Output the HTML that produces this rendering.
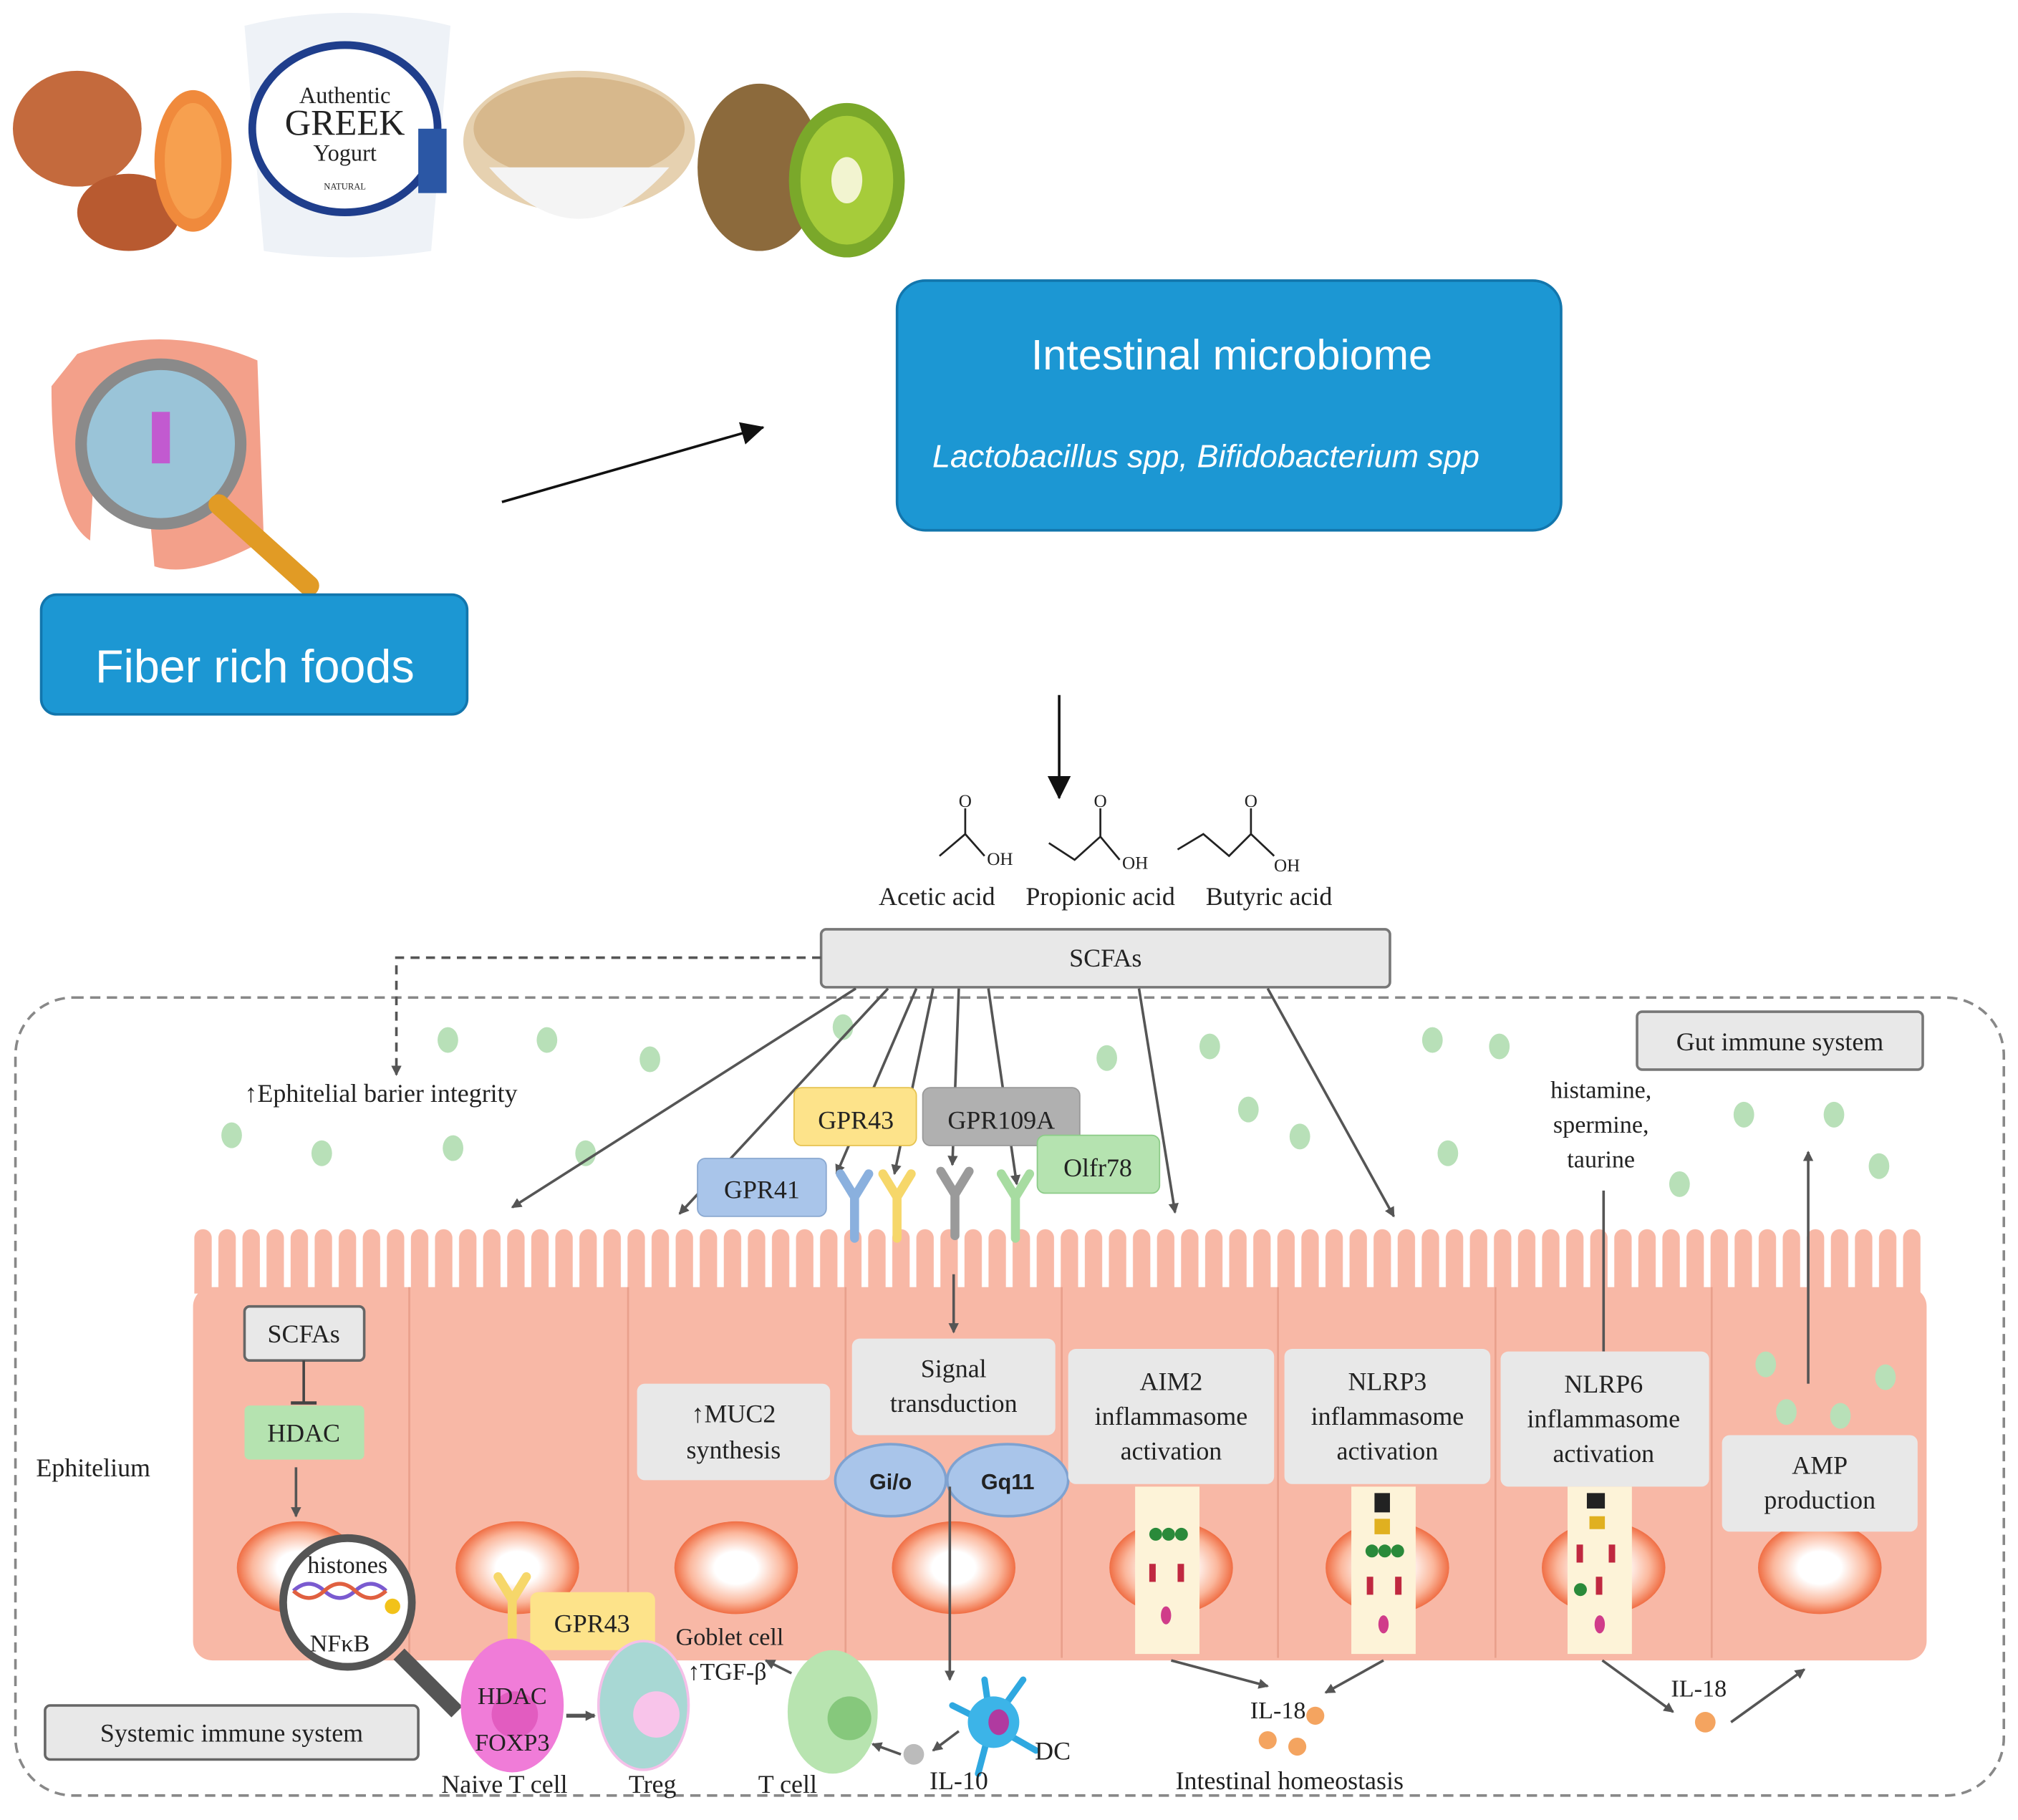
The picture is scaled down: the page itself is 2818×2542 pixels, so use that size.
<!DOCTYPE html>
<html><head><meta charset="utf-8"><style>
html,body{margin:0;padding:0;background:#fff;}
svg{display:block;}
text{font-family:"Liberation Serif",serif;fill:#222;}
.s{font-family:"Liberation Sans",sans-serif;}
</style></head><body>
<svg width="2818" height="2542" viewBox="0 0 1568 1414" preserveAspectRatio="none" xmlns="http://www.w3.org/2000/svg">
<defs>
<pattern id="mv" x="150" y="955" width="18.7" height="200" patternUnits="userSpaceOnUse">
<rect x="1" y="0" width="13.5" height="200" rx="6.7" fill="#f8b8a6"/>
</pattern>
<radialGradient id="nuc" cx="50%" cy="50%" r="50%">
<stop offset="0.35" stop-color="#fff"/><stop offset="0.75" stop-color="#fbb79c"/><stop offset="1" stop-color="#f06e44"/>
</radialGradient>
<marker id="ah" markerWidth="8" markerHeight="8" refX="7" refY="4" orient="auto" markerUnits="userSpaceOnUse"><path d="M0,0 L8,4 L0,8z" fill="#555"/></marker>
<marker id="ahb" markerWidth="18" markerHeight="18" refX="17" refY="9" orient="auto" markerUnits="userSpaceOnUse"><path d="M0,0 L18,9 L0,18z" fill="#111"/></marker>
</defs>

<!-- food images -->
<ellipse cx="60" cy="100" rx="50" ry="45" fill="#c46a3d"/>
<ellipse cx="100" cy="165" rx="40" ry="30" fill="#b85a30"/>
<ellipse cx="150" cy="125" rx="30" ry="55" fill="#f08a3c"/>
<ellipse cx="150" cy="125" rx="22" ry="45" fill="#f7a04f"/>
<path d="M190,20 Q270,0 350,20 L335,195 Q270,205 205,195z" fill="#eef2f7"/>
<ellipse cx="268" cy="100" rx="72" ry="65" fill="#fff" stroke="#1f3e8c" stroke-width="6"/>
<text x="268" y="80" font-size="18" text-anchor="middle" fill="#1f3e8c">Authentic</text>
<text x="268" y="105" font-size="28" text-anchor="middle" fill="#1f3e8c">GREEK</text>
<text x="268" y="125" font-size="18" text-anchor="middle" fill="#1f3e8c">Yogurt</text>
<text x="268" y="147" font-size="7" text-anchor="middle" fill="#1f3e8c">NATURAL</text>
<rect x="325" y="100" width="22" height="50" fill="#2b57a5"/>
<ellipse cx="450" cy="110" rx="90" ry="55" fill="#e6d1b0"/>
<ellipse cx="450" cy="100" rx="82" ry="40" fill="#d7b88c"/>
<path d="M380,130 Q450,210 520,130z" fill="#f4f4f4"/>
<ellipse cx="590" cy="130" rx="48" ry="65" fill="#8c6a3c"/>
<ellipse cx="658" cy="140" rx="45" ry="60" fill="#7aa82a"/>
<ellipse cx="658" cy="140" rx="36" ry="50" fill="#a6cc3a"/>
<ellipse cx="658" cy="140" rx="12" ry="18" fill="#f2f4d0"/>

<!-- intestine -->
<path d="M60,275 Q130,250 200,280 L205,420 Q150,450 120,440 L110,330 L75,330 L70,420 Q40,400 40,300z" fill="#f3a08a"/>
<circle cx="125" cy="345" r="62" fill="#9ac4d8" stroke="#8a8a8a" stroke-width="9"/>
<rect x="118" y="320" width="14" height="40" fill="#c25ad0"/>
<line x1="170" y1="392" x2="240" y2="455" stroke="#e19b25" stroke-width="16" stroke-linecap="round"/>

<!-- Fiber rich foods -->
<rect x="32" y="462" width="331" height="93" rx="12" fill="#1c97d3" stroke="#1276ad" stroke-width="2"/>
<text x="198" y="530" class="s" font-size="36" text-anchor="middle" style="fill:#fff">Fiber rich foods</text>

<line x1="390" y1="390" x2="593" y2="332" stroke="#111" stroke-width="2" marker-end="url(#ahb)"/>

<!-- microbiome -->
<rect x="697" y="218" width="516" height="194" rx="22" fill="#1c97d3" stroke="#1276ad" stroke-width="2"/>
<text x="957" y="287" class="s" font-size="33" text-anchor="middle" style="fill:#fff">Intestinal microbiome</text>
<text x="937" y="363" class="s" font-size="25" font-style="italic" text-anchor="middle" style="fill:#fff">Lactobacillus spp, Bifidobacterium spp</text>

<line x1="823" y1="540" x2="823" y2="620" stroke="#111" stroke-width="2" marker-end="url(#ahb)"/>

<!-- chemical structures -->
<g stroke="#222" stroke-width="1.5" fill="none">
<path d="M730,665 L750,648 L765,665 M750,648 L750,628"/>
<path d="M815,655 L835,668 L855,650 L870,668 M855,650 L855,628"/>
<path d="M915,660 L935,648 L955,665 L972,648 L990,665 M972,648 L972,628"/>
</g>
<text x="750" y="627" font-size="14" text-anchor="middle">O</text>
<text x="855" y="627" font-size="14" text-anchor="middle">O</text>
<text x="972" y="627" font-size="14" text-anchor="middle">O</text>
<text x="777" y="672" font-size="14" text-anchor="middle">OH</text>
<text x="882" y="675" font-size="14" text-anchor="middle">OH</text>
<text x="1000" y="677" font-size="14" text-anchor="middle">OH</text>
<text x="728" y="703" font-size="20" text-anchor="middle">Acetic acid</text>
<text x="855" y="703" font-size="20" text-anchor="middle">Propionic acid</text>
<text x="986" y="703" font-size="20" text-anchor="middle">Butyric acid</text>

<!-- outer dashed -->
<rect x="12" y="775" width="1545" height="620" rx="45" fill="none" stroke="#888" stroke-width="2" stroke-dasharray="8,5"/>

<!-- SCFAs box -->
<rect x="638" y="722" width="442" height="45" rx="4" fill="#e8e8e8" stroke="#777" stroke-width="2"/>
<text x="859" y="751" font-size="20" text-anchor="middle">SCFAs</text>
<path d="M638,744 L308,744 L308,835" fill="none" stroke="#555" stroke-width="2" stroke-dasharray="7,5" marker-end="url(#ah)"/>
<text x="190" y="856" font-size="20">↑Ephitelial barier integrity</text>

<!-- green dots -->
<g fill="#b8e0b8">
<ellipse cx="348" cy="808" rx="8" ry="10"/><ellipse cx="425" cy="808" rx="8" ry="10"/><ellipse cx="505" cy="823" rx="8" ry="10"/><ellipse cx="655" cy="798" rx="8" ry="10"/>
<ellipse cx="180" cy="882" rx="8" ry="10"/><ellipse cx="250" cy="896" rx="8" ry="10"/><ellipse cx="352" cy="892" rx="8" ry="10"/><ellipse cx="455" cy="896" rx="8" ry="10"/>
<ellipse cx="860" cy="822" rx="8" ry="10"/><ellipse cx="940" cy="813" rx="8" ry="10"/><ellipse cx="970" cy="862" rx="8" ry="10"/><ellipse cx="1010" cy="883" rx="8" ry="10"/>
<ellipse cx="1113" cy="808" rx="8" ry="10"/><ellipse cx="1165" cy="813" rx="8" ry="10"/><ellipse cx="1125" cy="896" rx="8" ry="10"/><ellipse cx="1305" cy="920" rx="8" ry="10"/>
<ellipse cx="1355" cy="866" rx="8" ry="10"/><ellipse cx="1425" cy="866" rx="8" ry="10"/><ellipse cx="1460" cy="906" rx="8" ry="10"/>
</g>

<!-- Cells -->
<g>
<rect x="150" y="1000" width="1347" height="290" rx="15" fill="#f8b8a6"/>
<rect x="150" y="955" width="1347" height="50" fill="url(#mv)"/>
<g stroke="#e9a08c" stroke-width="1.5">
<line x1="318" y1="1000" x2="318" y2="1288"/><line x1="488" y1="1000" x2="488" y2="1288"/><line x1="657" y1="1000" x2="657" y2="1288"/><line x1="825" y1="1000" x2="825" y2="1288"/><line x1="993" y1="1000" x2="993" y2="1288"/><line x1="1162" y1="1000" x2="1162" y2="1288"/><line x1="1330" y1="1000" x2="1330" y2="1288"/>
</g>
<g fill="url(#nuc)">
<ellipse cx="232" cy="1218" rx="48" ry="36"/><ellipse cx="402" cy="1218" rx="48" ry="36"/><ellipse cx="572" cy="1218" rx="48" ry="36"/><ellipse cx="741" cy="1218" rx="48" ry="36"/><ellipse cx="910" cy="1218" rx="48" ry="36"/><ellipse cx="1078" cy="1218" rx="48" ry="36"/><ellipse cx="1246" cy="1218" rx="48" ry="36"/><ellipse cx="1414" cy="1218" rx="48" ry="36"/>
</g>
</g>
<text x="28" y="1147" font-size="20">Ephitelium</text>

<!-- arrows from SCFAs -->
<g stroke="#555" stroke-width="2" fill="none" marker-end="url(#ah)">
<line x1="665" y1="768" x2="398" y2="938"/>
<line x1="690" y1="768" x2="528" y2="943"/>
<line x1="712" y1="768" x2="650" y2="912"/>
<line x1="725" y1="768" x2="695" y2="912"/>
<line x1="745" y1="768" x2="740" y2="905"/>
<line x1="768" y1="768" x2="790" y2="920"/>
<line x1="885" y1="768" x2="913" y2="942"/>
<line x1="985" y1="768" x2="1083" y2="945"/>
<line x1="741" y1="990" x2="741" y2="1035"/>
<line x1="1405" y1="1075" x2="1405" y2="895"/>
<line x1="230" y1="1140" x2="230" y2="1178"/>
</g>
<line x1="1246" y1="925" x2="1246" y2="1050" stroke="#555" stroke-width="2"/>

<!-- receptors -->
<rect x="617" y="845" width="95" height="45" rx="6" fill="#fde38a" stroke="#e6c350"/>
<text x="665" y="877" font-size="20" text-anchor="middle">GPR43</text>
<rect x="717" y="845" width="122" height="45" rx="6" fill="#b0b0b0" stroke="#999"/>
<text x="778" y="877" font-size="20" text-anchor="middle">GPR109A</text>
<rect x="542" y="900" width="100" height="45" rx="6" fill="#a9c5ea" stroke="#8aa8d0"/>
<text x="592" y="931" font-size="20" text-anchor="middle">GPR41</text>
<rect x="806" y="882" width="95" height="45" rx="6" fill="#b5e3b0" stroke="#8ccb88"/>
<text x="853" y="914" font-size="20" text-anchor="middle">Olfr78</text>
<g stroke-width="7" fill="none" stroke-linecap="round">
<path d="M653,912 L664,930 L675,912 M664,930 L664,962" stroke="#8ab0de"/>
<path d="M686,912 L697,930 L708,912 M697,930 L697,962" stroke="#f6d76a"/>
<path d="M731,910 L742,928 L753,910 M742,928 L742,960" stroke="#9a9a9a"/>
<path d="M778,912 L789,930 L800,912 M789,930 L789,962" stroke="#a7dca1"/>
<path d="M387,1225 L398,1243 L409,1225 M398,1243 L398,1280" stroke="#f6d76a"/>
</g>

<!-- in-cell boxes -->
<rect x="190" y="1015" width="93" height="42" rx="4" fill="#e8e8e8" stroke="#666" stroke-width="2"/>
<text x="236" y="1043" font-size="20" text-anchor="middle">SCFAs</text>
<line x1="236" y1="1057" x2="236" y2="1090" stroke="#444" stroke-width="2"/><line x1="226" y1="1090" x2="246" y2="1090" stroke="#444" stroke-width="2.5"/>
<rect x="190" y="1092" width="93" height="42" rx="4" fill="#b5e3b0"/>
<text x="236" y="1120" font-size="20" text-anchor="middle">HDAC</text>
<rect x="495" y="1075" width="150" height="75" rx="6" fill="#e8e8e8"/>
<text x="570" y="1105" font-size="20" text-anchor="middle">↑MUC2</text>
<text x="570" y="1133" font-size="20" text-anchor="middle">synthesis</text>
<rect x="662" y="1040" width="158" height="75" rx="6" fill="#e8e8e8"/>
<text x="741" y="1070" font-size="20" text-anchor="middle">Signal</text>
<text x="741" y="1097" font-size="20" text-anchor="middle">transduction</text>
<ellipse cx="692" cy="1150" rx="43" ry="28" fill="#a9c5ea" stroke="#7fa2d0" stroke-width="2"/>
<ellipse cx="783" cy="1150" rx="47" ry="28" fill="#a9c5ea" stroke="#7fa2d0" stroke-width="2"/>
<text x="692" y="1157" class="s" font-size="17" font-weight="bold" text-anchor="middle">Gi/o</text>
<text x="783" y="1157" class="s" font-size="17" font-weight="bold" text-anchor="middle">Gq11</text>
<line x1="738" y1="1155" x2="738" y2="1305" stroke="#555" stroke-width="2" marker-end="url(#ah)"/>

<g>
<rect x="830" y="1048" width="160" height="105" rx="6" fill="#e8e8e8"/>
<text x="910" y="1080" font-size="20" text-anchor="middle">AIM2</text><text x="910" y="1107" font-size="20" text-anchor="middle">inflammasome</text><text x="910" y="1134" font-size="20" text-anchor="middle">activation</text>
<rect x="998" y="1048" width="160" height="105" rx="6" fill="#e8e8e8"/>
<text x="1078" y="1080" font-size="20" text-anchor="middle">NLRP3</text><text x="1078" y="1107" font-size="20" text-anchor="middle">inflammasome</text><text x="1078" y="1134" font-size="20" text-anchor="middle">activation</text>
<rect x="1166" y="1050" width="162" height="105" rx="6" fill="#e8e8e8"/>
<text x="1246" y="1082" font-size="20" text-anchor="middle">NLRP6</text><text x="1246" y="1109" font-size="20" text-anchor="middle">inflammasome</text><text x="1246" y="1136" font-size="20" text-anchor="middle">activation</text>
<rect x="1338" y="1115" width="152" height="75" rx="6" fill="#e8e8e8"/>
<text x="1414" y="1145" font-size="20" text-anchor="middle">AMP</text><text x="1414" y="1172" font-size="20" text-anchor="middle">production</text>
</g>
<g fill="#b8e0b8"><ellipse cx="1372" cy="1060" rx="8" ry="10"/><ellipse cx="1465" cy="1070" rx="8" ry="10"/><ellipse cx="1388" cy="1097" rx="8" ry="10"/><ellipse cx="1430" cy="1100" rx="8" ry="10"/></g>

<!-- inflammasome strips -->
<g>
<rect x="882" y="1155" width="50" height="130" fill="#fdf3d8"/>
<rect x="1050" y="1155" width="50" height="130" fill="#fdf3d8"/>
<rect x="1218" y="1155" width="50" height="130" fill="#fdf3d8"/>
<g fill="#2a8a3a"><circle cx="898" cy="1192" r="5"/><circle cx="908" cy="1192" r="5"/><circle cx="918" cy="1192" r="5"/><circle cx="1066" cy="1205" r="5"/><circle cx="1076" cy="1205" r="5"/><circle cx="1086" cy="1205" r="5"/><circle cx="1228" cy="1235" r="5"/></g>
<g fill="#c02840"><rect x="893" y="1215" width="5" height="14"/><rect x="915" y="1215" width="5" height="14"/><rect x="1062" y="1225" width="5" height="14"/><rect x="1084" y="1225" width="5" height="14"/><rect x="1225" y="1200" width="5" height="14"/><rect x="1250" y="1200" width="5" height="14"/><rect x="1240" y="1225" width="5" height="14"/></g>
<g fill="#d03c8a"><ellipse cx="906" cy="1255" rx="4" ry="7"/><ellipse cx="1075" cy="1262" rx="4" ry="7"/><ellipse cx="1243" cy="1262" rx="4" ry="7"/></g>
<g fill="#222"><rect x="1068" y="1160" width="12" height="15"/><rect x="1233" y="1160" width="14" height="12"/></g>
<g fill="#e0b020"><rect x="1068" y="1180" width="12" height="12"/><rect x="1235" y="1178" width="12" height="10"/></g>
</g>

<!-- magnifier -->
<line x1="310" y1="1285" x2="355" y2="1330" stroke="#555" stroke-width="12"/>
<circle cx="270" cy="1245" r="50" fill="#fff" stroke="#555" stroke-width="6"/>
<path d="M228,1236 Q240,1225 252,1236 T276,1236 T300,1236" fill="none" stroke="#7a5ad0" stroke-width="3"/>
<path d="M228,1236 Q240,1247 252,1236 T276,1236 T300,1236" fill="none" stroke="#e06040" stroke-width="3"/>
<circle cx="305" cy="1248" r="6" fill="#f2c21a"/>
<text x="270" y="1222" font-size="19" text-anchor="middle">histones</text>
<text x="264" y="1283" font-size="19" text-anchor="middle">NFκB</text>

<!-- immune -->
<rect x="35" y="1325" width="290" height="42" rx="4" fill="#e8e8e8" stroke="#666" stroke-width="2"/>
<text x="180" y="1353" font-size="20" text-anchor="middle">Systemic immune system</text>
<rect x="1272" y="786" width="222" height="45" rx="4" fill="#e8e8e8" stroke="#777" stroke-width="2"/>
<text x="1383" y="816" font-size="20" text-anchor="middle">Gut immune system</text>
<text x="1244" y="853" font-size="19" text-anchor="middle">histamine,</text>
<text x="1244" y="880" font-size="19" text-anchor="middle">spermine,</text>
<text x="1244" y="907" font-size="19" text-anchor="middle">taurine</text>

<rect x="412" y="1237" width="97" height="45" rx="6" fill="#fde38a"/>
<text x="460" y="1268" font-size="20" text-anchor="middle">GPR43</text>
<text x="567" y="1278" font-size="19" text-anchor="middle">Goblet cell</text>
<text x="565" y="1305" font-size="19" text-anchor="middle">↑TGF-β</text>

<ellipse cx="398" cy="1325" rx="40" ry="52" fill="#f07cd8"/>
<circle cx="400" cy="1332" r="18" fill="#e25cc0"/>
<text x="398" y="1324" font-size="19" text-anchor="middle">HDAC</text>
<text x="398" y="1360" font-size="19" text-anchor="middle">FOXP3</text>
<line x1="440" y1="1333" x2="462" y2="1333" stroke="#555" stroke-width="3" marker-end="url(#ah)"/>
<ellipse cx="500" cy="1325" rx="35" ry="50" fill="#a8d8d4" stroke="#f4c0e8" stroke-width="2"/>
<circle cx="510" cy="1332" r="18" fill="#f8c4ea"/>
<ellipse cx="647" cy="1330" rx="35" ry="48" fill="#b8e4b0"/>
<circle cx="660" cy="1335" r="17" fill="#86c87c"/>
<line x1="615" y1="1300" x2="595" y2="1290" stroke="#555" stroke-width="2" marker-end="url(#ah)"/>
<circle cx="710" cy="1363" r="8" fill="#bbb"/>
<line x1="700" y1="1363" x2="678" y2="1355" stroke="#555" stroke-width="2" marker-end="url(#ah)"/>
<line x1="745" y1="1345" x2="725" y2="1360" stroke="#555" stroke-width="2" marker-end="url(#ah)"/>
<g stroke="#2fa8e0" stroke-width="5" stroke-linecap="round">
<line x1="770" y1="1340" x2="740" y2="1325"/><line x1="770" y1="1340" x2="795" y2="1305"/><line x1="770" y1="1340" x2="805" y2="1360"/><line x1="770" y1="1340" x2="760" y2="1378"/><line x1="770" y1="1340" x2="765" y2="1305"/>
</g>
<circle cx="772" cy="1338" r="20" fill="#3cb4e8"/>
<ellipse cx="776" cy="1338" rx="8" ry="10" fill="#b03aa0"/>
<text x="818" y="1367" font-size="20" text-anchor="middle">DC</text>
<text x="392" y="1393" font-size="20" text-anchor="middle">Naive T cell</text>
<text x="507" y="1393" font-size="20" text-anchor="middle">Treg</text>
<text x="612" y="1393" font-size="20" text-anchor="middle">T cell</text>
<text x="745" y="1390" font-size="20" text-anchor="middle">IL-10</text>

<line x1="910" y1="1290" x2="985" y2="1310" stroke="#555" stroke-width="2" marker-end="url(#ah)"/>
<line x1="1075" y1="1290" x2="1030" y2="1315" stroke="#555" stroke-width="2" marker-end="url(#ah)"/>
<text x="993" y="1335" font-size="19" text-anchor="middle">IL-18</text>
<g fill="#f4a460"><circle cx="1022" cy="1333" r="7"/><circle cx="985" cy="1352" r="7"/><circle cx="1008" cy="1357" r="7"/><circle cx="1325" cy="1338" r="8"/></g>
<text x="1002" y="1390" font-size="20" text-anchor="middle">Intestinal homeostasis</text>
<line x1="1245" y1="1290" x2="1300" y2="1330" stroke="#555" stroke-width="2" marker-end="url(#ah)"/>
<text x="1320" y="1318" font-size="19" text-anchor="middle">IL-18</text>
<line x1="1345" y1="1338" x2="1402" y2="1297" stroke="#555" stroke-width="2" marker-end="url(#ah)"/>
</svg>
</body></html>
